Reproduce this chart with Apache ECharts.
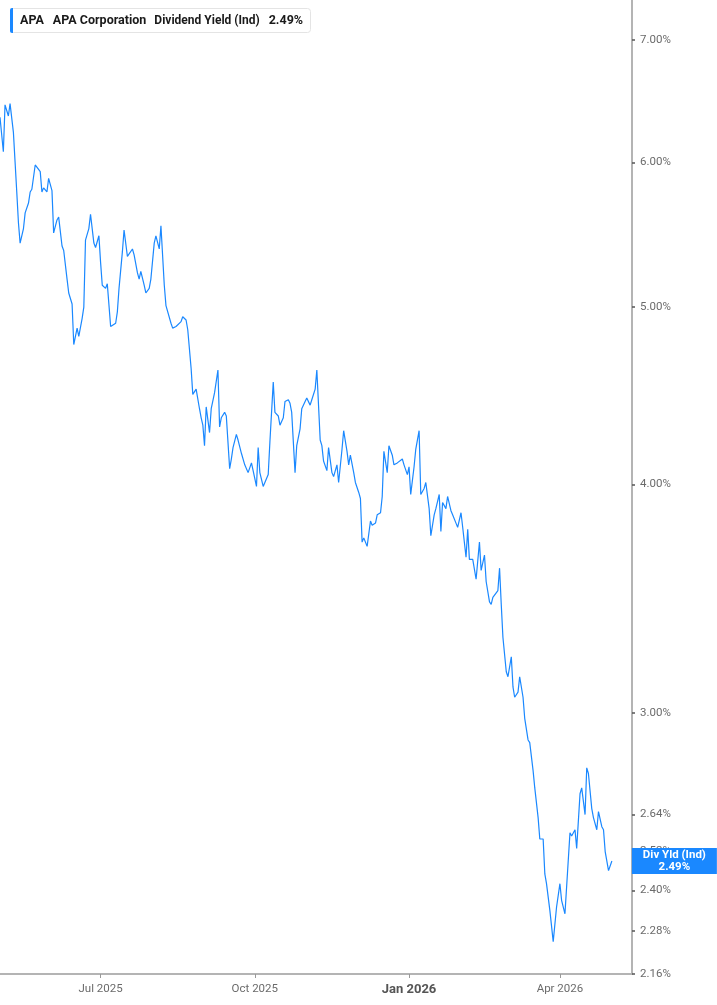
<!DOCTYPE html>
<html><head><meta charset="utf-8">
<script src="https://cdn.jsdelivr.net/npm/echarts@6/dist/echarts.min.js"></script>
<style>html,body{margin:0;padding:0;background:#fff}#c{width:717px;height:1005px}</style>
</head><body><div id="c"></div>
<script>
const ticker = 'APA';
const company = 'APA Corporation';
const metric = 'Dividend Yield (Ind)';
const metricShort = 'Div Yld (Ind)';

const dates = [
'2025-05-02','2025-05-04','2025-05-05','2025-05-07','2025-05-08','2025-05-10','2025-05-11','2025-05-12','2025-05-13','2025-05-14',
'2025-05-16','2025-05-17','2025-05-19','2025-05-20','2025-05-21','2025-05-23','2025-05-24','2025-05-26','2025-05-27','2025-05-28',
'2025-05-30','2025-05-31','2025-06-02','2025-06-03','2025-06-05','2025-06-06','2025-06-08','2025-06-09','2025-06-11','2025-06-12',
'2025-06-14','2025-06-15','2025-06-17','2025-06-18','2025-06-20','2025-06-21','2025-06-22','2025-06-24','2025-06-25','2025-06-27',
'2025-06-28','2025-06-30','2025-07-01','2025-07-02','2025-07-04','2025-07-05','2025-07-07','2025-07-08','2025-07-10','2025-07-11',
'2025-07-12','2025-07-14','2025-07-15','2025-07-17','2025-07-18','2025-07-20','2025-07-21','2025-07-23','2025-07-24','2025-07-25',
'2025-07-27','2025-07-28','2025-07-30','2025-07-31','2025-08-02','2025-08-03','2025-08-05','2025-08-06','2025-08-08','2025-08-09',
'2025-08-10','2025-08-12','2025-08-13','2025-08-15','2025-08-16','2025-08-18','2025-08-19','2025-08-21','2025-08-22','2025-08-24',
'2025-08-25','2025-08-27','2025-08-29','2025-08-30','2025-08-31','2025-09-01','2025-09-02','2025-09-04','2025-09-05','2025-09-07',
'2025-09-09','2025-09-10','2025-09-11','2025-09-13','2025-09-14','2025-09-16','2025-09-17','2025-09-18','2025-09-20','2025-09-21',
'2025-09-23','2025-09-25','2025-09-26','2025-09-27','2025-09-29','2025-09-30','2025-10-02','2025-10-03','2025-10-04','2025-10-06',
'2025-10-07','2025-10-09','2025-10-10','2025-10-12','2025-10-13','2025-10-15','2025-10-16','2025-10-18','2025-10-19','2025-10-21',
'2025-10-22','2025-10-23','2025-10-25','2025-10-26','2025-10-28','2025-10-29','2025-10-31','2025-11-01','2025-11-03','2025-11-04',
'2025-11-06','2025-11-07','2025-11-09','2025-11-10','2025-11-11','2025-11-13','2025-11-14','2025-11-16','2025-11-17','2025-11-19',
'2025-11-20','2025-11-22','2025-11-23','2025-11-25','2025-11-26','2025-11-27','2025-11-29','2025-11-30','2025-12-02','2025-12-03',
'2025-12-04','2025-12-05','2025-12-07','2025-12-09','2025-12-10','2025-12-12','2025-12-13','2025-12-15','2025-12-16','2025-12-17',
'2025-12-19','2025-12-20','2025-12-22','2025-12-23','2025-12-25','2025-12-26','2025-12-28','2025-12-29','2025-12-31','2026-01-01',
'2026-01-02','2026-01-04','2026-01-05','2026-01-07','2026-01-08','2026-01-10','2026-01-11','2026-01-13','2026-01-14','2026-01-16',
'2026-01-17','2026-01-19','2026-01-20','2026-01-21','2026-01-23','2026-01-24','2026-01-26','2026-01-27','2026-01-29','2026-01-30',
'2026-02-01','2026-02-02','2026-02-04','2026-02-05','2026-02-06','2026-02-08','2026-02-09','2026-02-10','2026-02-12','2026-02-13',
'2026-02-15','2026-02-16','2026-02-18','2026-02-19','2026-02-20','2026-02-22','2026-02-23','2026-02-24','2026-02-25','2026-02-26',
'2026-02-28','2026-03-01','2026-03-03','2026-03-04','2026-03-05','2026-03-07','2026-03-08','2026-03-10','2026-03-11','2026-03-13',
'2026-03-14','2026-03-16','2026-03-17','2026-03-19','2026-03-20','2026-03-22','2026-03-23','2026-03-24','2026-03-26','2026-03-28',
'2026-03-30','2026-04-01','2026-04-02','2026-04-04','2026-04-05','2026-04-07','2026-04-08','2026-04-10','2026-04-11','2026-04-13',
'2026-04-14','2026-04-16','2026-04-17','2026-04-18','2026-04-20','2026-04-21','2026-04-23','2026-04-24','2026-04-26','2026-04-27',
'2026-04-28','2026-04-30','2026-05-02'
];

const yields = [
6.35,6.08,6.45,6.36,6.46,6.23,6.00,5.78,5.56,5.42,
5.52,5.63,5.70,5.78,5.80,5.98,5.97,5.93,5.78,5.81,
5.78,5.88,5.79,5.49,5.58,5.60,5.40,5.37,5.18,5.09,
5.02,4.77,4.87,4.82,4.93,5.00,5.44,5.52,5.62,5.42,
5.39,5.47,5.29,5.14,5.12,5.15,4.88,4.89,4.90,4.97,
5.12,5.36,5.51,5.33,5.33,5.38,5.34,5.22,5.18,5.23,
5.14,5.09,5.12,5.18,5.42,5.47,5.38,5.54,5.14,5.01,
5.02,4.90,4.87,4.88,4.89,4.91,4.94,4.92,4.86,4.63,
4.48,4.51,4.40,4.35,4.31,4.20,4.41,4.27,4.40,4.49,
4.62,4.30,4.35,4.38,4.36,4.08,4.13,4.19,4.26,4.23,
4.16,4.10,4.11,4.06,4.11,4.12,3.99,4.19,4.06,3.99,
3.99,4.05,4.22,4.55,4.38,4.36,4.31,4.35,4.44,4.45,
4.43,4.38,4.06,4.20,4.29,4.40,4.44,4.46,4.42,4.45,
4.51,4.62,4.23,4.20,4.12,4.07,4.19,4.06,4.04,4.10,
4.01,4.18,4.28,4.17,4.10,4.15,4.06,4.01,3.96,3.93,
3.72,3.74,3.70,3.82,3.80,3.81,3.85,3.86,3.94,4.17,
4.06,4.20,4.15,4.10,4.11,4.11,4.13,4.10,4.05,4.09,
3.95,4.09,4.18,4.28,3.95,3.98,4.01,3.88,3.75,3.85,
3.88,3.95,3.77,3.91,3.88,3.94,3.87,3.85,3.81,3.79,
3.86,3.79,3.65,3.78,3.64,3.64,3.64,3.55,3.72,3.59,
3.66,3.54,3.45,3.44,3.47,3.49,3.50,3.60,3.44,3.30,
3.16,3.14,3.22,3.10,3.06,3.08,3.14,3.06,2.98,2.90,
2.89,2.79,2.73,2.63,2.56,2.56,2.45,2.42,2.34,2.25,
2.35,2.42,2.37,2.33,2.33,2.58,2.57,2.59,2.53,2.71,
2.73,2.64,2.80,2.78,2.66,2.63,2.59,2.65,2.60,2.59,
2.52,2.46,2.49
];

const yTicks = [2.16, 2.28, 2.40, 2.52, 2.64, 3.00, 4.00, 5.00, 6.00, 7.00];
const xTicks = ['2025-07-01', '2025-10-01', '2026-01-01', '2026-04-01'];
const yMin = 2.16, yMax = 7.36;
const xMin = '2025-05-02', xMax = '2026-05-14';

const FONT = 'Roboto, "Noto Sans", sans-serif';
const BLUE = '#1a88ff';
const MONTHS = ['Jan','Feb','Mar','Apr','May','Jun','Jul','Aug','Sep','Oct','Nov','Dec'];
const last = yields[yields.length - 1];
const ts = s => Date.parse(s + 'T00:00:00Z');

const chart = echarts.init(document.getElementById('c'), null, {renderer: 'canvas'});
chart.setOption({
  backgroundColor: '#fff',
  animation: false,
  textStyle: {fontFamily: FONT},
  title: {
    left: 10, top: 8,
    padding: [6, 8, 6, 10],
    backgroundColor: '#fff',
    borderColor: '#e4e4e4', borderWidth: 1, borderRadius: 3,
    text: '{t|' + ticker + '}{n|' + company + '}{d|' + metric + '}{v|' + last.toFixed(2) + '%}',
    textStyle: {
      fontFamily: FONT, fontSize: 12, lineHeight: 13,
      rich: {
        t: {fontFamily: FONT, fontSize: 12.5, fontWeight: 'bold', color: '#1a1a1a', padding: [0, 9, 0, 0]},
        n: {fontFamily: FONT, fontSize: 12.5, fontWeight: 'bold', color: '#1a1a1a', padding: [0, 8, 0, 0]},
        d: {fontFamily: FONT, fontSize: 12, color: '#1a1a1a', padding: [0, 9, 0, 0]},
        v: {fontFamily: FONT, fontSize: 12.5, fontWeight: 'bold', color: '#1a1a1a'}
      }
    }
  },
  graphic: [{
    type: 'rect', left: 10, top: 8, z: 100,
    shape: {width: 3, height: 25, r: [2, 0, 0, 2]},
    style: {fill: BLUE}
  }],
  grid: {left: 0, right: 85, top: 0, bottom: 31, containLabel: false},
  xAxis: {
    type: 'value', min: ts(xMin), max: ts(xMax), scale: true,
    axisLine: {show: true, onZero: false, lineStyle: {color: '#b4b4b4', width: 2}},
    axisTick: {show: true, length: 4, customValues: xTicks.map(ts), lineStyle: {color: '#999', width: 1}},
    axisLabel: {
      customValues: xTicks.map(ts), margin: 9, color: '#6b6b6b', fontSize: 11.5, fontFamily: FONT,
      formatter: function (v) {
        const d = new Date(v);
        const m = d.getUTCMonth();
        const s = MONTHS[m] + ' ' + d.getUTCFullYear();
        return m === 0 ? '{b|' + s + '}' : s;
      },
      rich: {b: {fontWeight: 'bold', fontSize: 13, color: '#555', fontFamily: FONT}}
    },
    splitLine: {show: false}
  },
  yAxis: {
    type: 'log', position: 'right', min: yMin, max: yMax, logBase: 10,
    axisLine: {show: true, lineStyle: {color: '#b4b4b4', width: 2}},
    axisTick: {show: true, length: 3, customValues: yTicks, lineStyle: {color: '#555', width: 1.5}},
    axisLabel: {
      customValues: yTicks, margin: 8, color: '#6b6b6b', fontSize: 11.5, fontFamily: FONT,
      formatter: v => Number(v).toFixed(2) + '%'
    },
    splitLine: {show: false}
  },
  series: [{
    type: 'line',
    clip: false,
    showSymbol: false,
    symbol: 'none',
    data: dates.map((d, i) => [ts(d), yields[i]]),
    lineStyle: {color: BLUE, width: 1.2},
    itemStyle: {color: BLUE},
    z: 5,
    endLabel: {
      show: true,
      distance: 20,
      backgroundColor: BLUE,
      padding: [1, 6, 1, 6],
      formatter: p => '{a|' + metricShort + '}\n{a|' + Number(p.value[1]).toFixed(2) + '%}',
      rich: {a: {color: '#fff', fontWeight: 'bold', fontSize: 11.5, lineHeight: 12, width: 73, align: 'center', fontFamily: FONT}}
    }
  }]
});
</script>
</body></html>
